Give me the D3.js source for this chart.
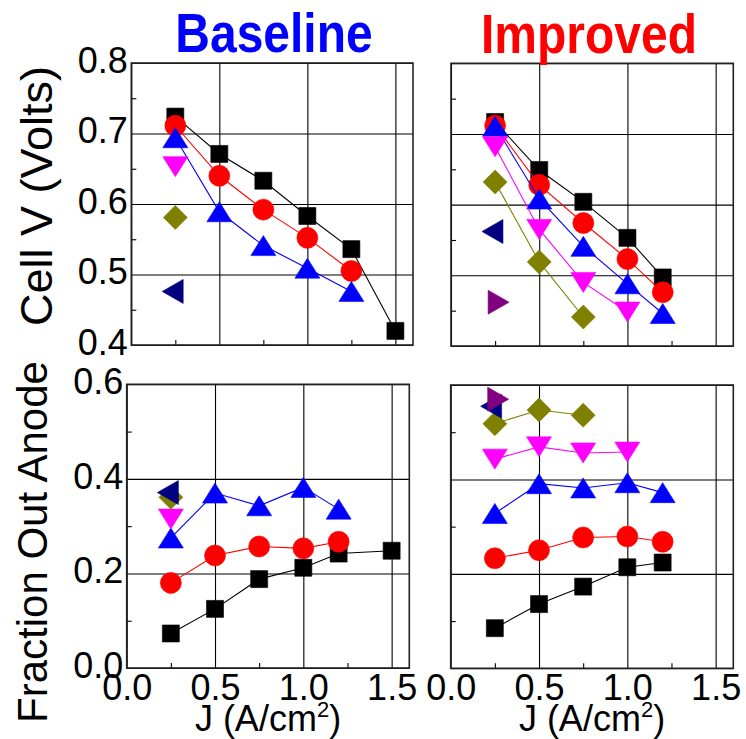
<!DOCTYPE html>
<html>
<head>
<meta charset="utf-8">
<script src="https://cdn.jsdelivr.net/npm/d3@7/dist/d3.min.js"></script>
<style>
  html, body { margin: 0; padding: 0; background: #fff; }
  svg { display: block; }
  text { font-family: "Liberation Sans", Arial, sans-serif; }
</style>
</head>
<body>
<svg id="chart" width="746" height="739"></svg>
<script>
// ---------------- DATA ----------------
const panelTitles = ["Baseline", "Improved"];
const yLabelTop = "Cell V (Volts)";
const yLabelBottom = "Fraction Out Anode";

const jTicks = [0.0, 0.5, 1.0, 1.5];
const jMinor = [0.25, 0.75, 1.25];
const vTicks = [0.4, 0.5, 0.6, 0.7, 0.8];
const vMinor = [0.45, 0.55, 0.65, 0.75];
const fTicks = [0.0, 0.2, 0.4, 0.6];
const fMinor = [0.1, 0.3, 0.5];

// Baseline – cell voltage
const baseV_black_x = [0.25, 0.5, 0.75, 1.0, 1.25, 1.5];
const baseV_black_y = [0.724, 0.671, 0.633, 0.583, 0.536, 0.420];
const baseV_red_x = [0.25, 0.5, 0.75, 1.0, 1.25];
const baseV_red_y = [0.711, 0.640, 0.592, 0.552, 0.505];
const baseV_blue_x = [0.25, 0.5, 0.75, 1.0, 1.25];
const baseV_blue_y = [0.694, 0.589, 0.541, 0.509, 0.476];
const baseV_magenta_x = [0.25];
const baseV_magenta_y = [0.653];
const baseV_olive_x = [0.25];
const baseV_olive_y = [0.581];
const baseV_navy_x = [0.235];
const baseV_navy_y = [0.476];

// Improved – cell voltage
const impV_black_x = [0.25, 0.5, 0.75, 1.0, 1.2];
const impV_black_y = [0.717, 0.649, 0.604, 0.553, 0.497];
const impV_red_x = [0.25, 0.5, 0.75, 1.0, 1.2];
const impV_red_y = [0.712, 0.628, 0.574, 0.523, 0.476];
const impV_blue_x = [0.25, 0.5, 0.75, 1.0, 1.2];
const impV_blue_y = [0.711, 0.608, 0.541, 0.488, 0.446];
const impV_magenta_x = [0.25, 0.5, 0.75, 1.0];
const impV_magenta_y = [0.682, 0.565, 0.490, 0.448];
const impV_olive_x = [0.25, 0.5, 0.75];
const impV_olive_y = [0.632, 0.519, 0.441];
const impV_navy_x = [0.235];
const impV_navy_y = [0.562];
const impV_purple_x = [0.27];
const impV_purple_y = [0.462];

// Baseline – fraction out anode
const baseF_black_x = [0.25, 0.5, 0.75, 1.0, 1.2, 1.5];
const baseF_black_y = [0.073, 0.125, 0.188, 0.212, 0.242, 0.248];
const baseF_red_x = [0.25, 0.5, 0.75, 1.0, 1.2];
const baseF_red_y = [0.180, 0.238, 0.257, 0.253, 0.267];
const baseF_blue_x = [0.25, 0.5, 0.75, 1.0, 1.2];
const baseF_blue_y = [0.275, 0.370, 0.343, 0.382, 0.336];
const baseF_magenta_x = [0.25];
const baseF_magenta_y = [0.315];
const baseF_olive_x = [0.25];
const baseF_olive_y = [0.361];
const baseF_navy_x = [0.233];
const baseF_navy_y = [0.371];

// Improved – fraction out anode
const impF_black_x = [0.25, 0.5, 0.75, 1.0, 1.2];
const impF_black_y = [0.085, 0.136, 0.173, 0.214, 0.224];
const impF_red_x = [0.25, 0.5, 0.75, 1.0, 1.2];
const impF_red_y = [0.233, 0.250, 0.277, 0.279, 0.268];
const impF_blue_x = [0.25, 0.5, 0.75, 1.0, 1.2];
const impF_blue_y = [0.328, 0.391, 0.382, 0.393, 0.372];
const impF_magenta_x = [0.25, 0.5, 0.75, 1.0];
const impF_magenta_y = [0.443, 0.469, 0.456, 0.458];
const impF_olive_x = [0.25, 0.5, 0.75];
const impF_olive_y = [0.518, 0.547, 0.536];
const impF_navy_x = [0.229];
const impF_navy_y = [0.555];
const impF_purple_x = [0.269];
const impF_purple_y = [0.570];

// ---------------- STYLE ----------------
const styles = {
  black:   { color: "#000000", shape: "square" },
  red:     { color: "#ff0000", shape: "circle" },
  blue:    { color: "#0000ff", shape: "up" },
  magenta: { color: "#ff00ff", shape: "down" },
  olive:   { color: "#808000", shape: "diamond" },
  navy:    { color: "#000080", shape: "left" },
  purple:  { color: "#800080", shape: "right" }
};

function mk(name, xs, ys) { return { name, pts: xs.map((x, i) => [x, ys[i]]) }; }

const panels = [
  { box: [131.3, 63, 413, 345], ydom: [0.4, 0.8], yt: vTicks, ym: vMinor, yLabels: true, xLabels: false,
    series: [mk("black", baseV_black_x, baseV_black_y), mk("red", baseV_red_x, baseV_red_y),
             mk("blue", baseV_blue_x, baseV_blue_y), mk("magenta", baseV_magenta_x, baseV_magenta_y),
             mk("olive", baseV_olive_x, baseV_olive_y), mk("navy", baseV_navy_x, baseV_navy_y)] },
  { box: [451, 63.3, 733.3, 346], ydom: [0.4, 0.8], yt: vTicks, ym: vMinor, yLabels: false, xLabels: false,
    series: [mk("black", impV_black_x, impV_black_y), mk("red", impV_red_x, impV_red_y),
             mk("blue", impV_blue_x, impV_blue_y), mk("magenta", impV_magenta_x, impV_magenta_y),
             mk("olive", impV_olive_x, impV_olive_y), mk("navy", impV_navy_x, impV_navy_y),
             mk("purple", impV_purple_x, impV_purple_y)] },
  { box: [126.7, 384.3, 409.3, 668], ydom: [0, 0.6], yt: fTicks, ym: fMinor, yLabels: true, xLabels: true,
    series: [mk("black", baseF_black_x, baseF_black_y), mk("red", baseF_red_x, baseF_red_y),
             mk("blue", baseF_blue_x, baseF_blue_y), mk("magenta", baseF_magenta_x, baseF_magenta_y),
             mk("olive", baseF_olive_x, baseF_olive_y), mk("navy", baseF_navy_x, baseF_navy_y)] },
  { box: [450.7, 385, 733.3, 668.3], ydom: [0, 0.6], yt: fTicks, ym: fMinor, yLabels: false, xLabels: true,
    series: [mk("black", impF_black_x, impF_black_y), mk("red", impF_red_x, impF_red_y),
             mk("blue", impF_blue_x, impF_blue_y), mk("magenta", impF_magenta_x, impF_magenta_y),
             mk("olive", impF_olive_x, impF_olive_y), mk("navy", impF_navy_x, impF_navy_y),
             mk("purple", impF_purple_x, impF_purple_y)] }
];

function symbolPath(shape) {
  switch (shape) {
    case "square": return "M-8.5,-8.5h17v17h-17Z";
    case "circle": return d3.arc()({innerRadius: 0, outerRadius: 10.5, startAngle: 0, endAngle: 2 * Math.PI});
    case "up": return "M0,-10L12.5,10L-12.5,10Z";
    case "down": return "M0,10L12.5,-10L-12.5,-10Z";
    case "diamond": return "M0,-12L12,0L0,12L-12,0Z";
    case "left": return "M-10.5,0L10.5,-12L10.5,12Z";
    case "right": return "M10.5,0L-10.5,-12L-10.5,12Z";
  }
}

const svg = d3.select("#chart");
const fmt = d3.format(".1f");
const TICKFONT = 36;

panels.forEach(p => {
  const [x0, y0, x1, y1] = p.box;
  const w = x1 - x0, h = y1 - y0;
  const x = d3.scaleLinear().domain([0, 1.6]).range([0, w]);
  const y = d3.scaleLinear().domain(p.ydom).range([h, 0]);
  const g = svg.append("g").attr("transform", `translate(${x0},${y0})`);

  const gx = g.append("g").attr("transform", `translate(0,${h})`)
    .call(d3.axisBottom(x).tickValues(jTicks).tickSize(-h).tickFormat(p.xLabels ? fmt : ""));
  const gy = g.append("g")
    .call(d3.axisLeft(y).tickValues(p.yt).tickSize(-w).tickFormat(p.yLabels ? fmt : ""));
  g.append("g").attr("transform", `translate(0,${h})`)
    .call(d3.axisBottom(x).tickValues(jMinor).tickSize(-5).tickFormat(""));
  g.append("g")
    .call(d3.axisLeft(y).tickValues(p.ym).tickSize(-5).tickFormat(""));

  g.selectAll(".domain").remove();
  g.selectAll(".tick line").attr("stroke", "#000").attr("stroke-width", 1.1);

  gx.selectAll(".tick text")
    .attr("y", 32).attr("dy", null)
    .attr("font-size", TICKFONT).attr("fill", "#000")
    .attr("font-family", "'Liberation Sans', Arial, sans-serif");
  gy.selectAll(".tick text")
    .attr("x", -3.5).attr("dy", "0.26em")
    .attr("font-size", TICKFONT).attr("fill", "#000")
    .attr("font-family", "'Liberation Sans', Arial, sans-serif");

  g.append("rect").attr("x", 0).attr("y", 0).attr("width", w).attr("height", h)
    .attr("fill", "none").attr("stroke", "#222").attr("stroke-width", 1.6);

  const line = d3.line().x(d => x(d[0])).y(d => y(d[1]));
  p.series.forEach(s => {
    const st = styles[s.name];
    if (s.pts.length > 1) {
      g.append("path").attr("d", line(s.pts)).attr("fill", "none")
        .attr("stroke", st.color).attr("stroke-width", 1.1);
    }
    g.selectAll(null).data(s.pts).enter().append("path")
      .attr("d", symbolPath(st.shape))
      .attr("transform", d => `translate(${x(d[0])},${y(d[1])})`)
      .attr("fill", st.color).attr("stroke", st.color).attr("stroke-width", 0.6);
  });
});

// titles
svg.append("text").text(panelTitles[0])
  .attr("transform", "translate(274,52) scale(1,1.14)")
  .attr("text-anchor", "middle").attr("font-weight", "bold")
  .attr("font-size", 48).attr("fill", "#0000ff");
svg.append("text").text(panelTitles[1])
  .attr("transform", "translate(589,52.5) scale(1,1.14)")
  .attr("text-anchor", "middle").attr("font-weight", "bold")
  .attr("font-size", 48).attr("fill", "#ff0000");

// y axis labels
svg.append("text").text(yLabelTop)
  .attr("transform", "translate(52,196) rotate(-90)")
  .attr("text-anchor", "middle").attr("font-size", 45).attr("fill", "#000");
svg.append("text").text(yLabelBottom)
  .attr("transform", "translate(47,542) rotate(-90)")
  .attr("text-anchor", "middle").attr("font-size", 42).attr("fill", "#000");

// x axis labels
[268, 592].forEach(cx => {
  const t = svg.append("text").attr("x", cx).attr("y", 731)
    .attr("text-anchor", "middle").attr("font-size", 36).attr("fill", "#000");
  t.append("tspan").text("J (A/cm");
  t.append("tspan").text("2").attr("font-size", 22).attr("dy", -14);
  t.append("tspan").text(")").attr("dy", 14);
});
</script>
</body>
</html>
